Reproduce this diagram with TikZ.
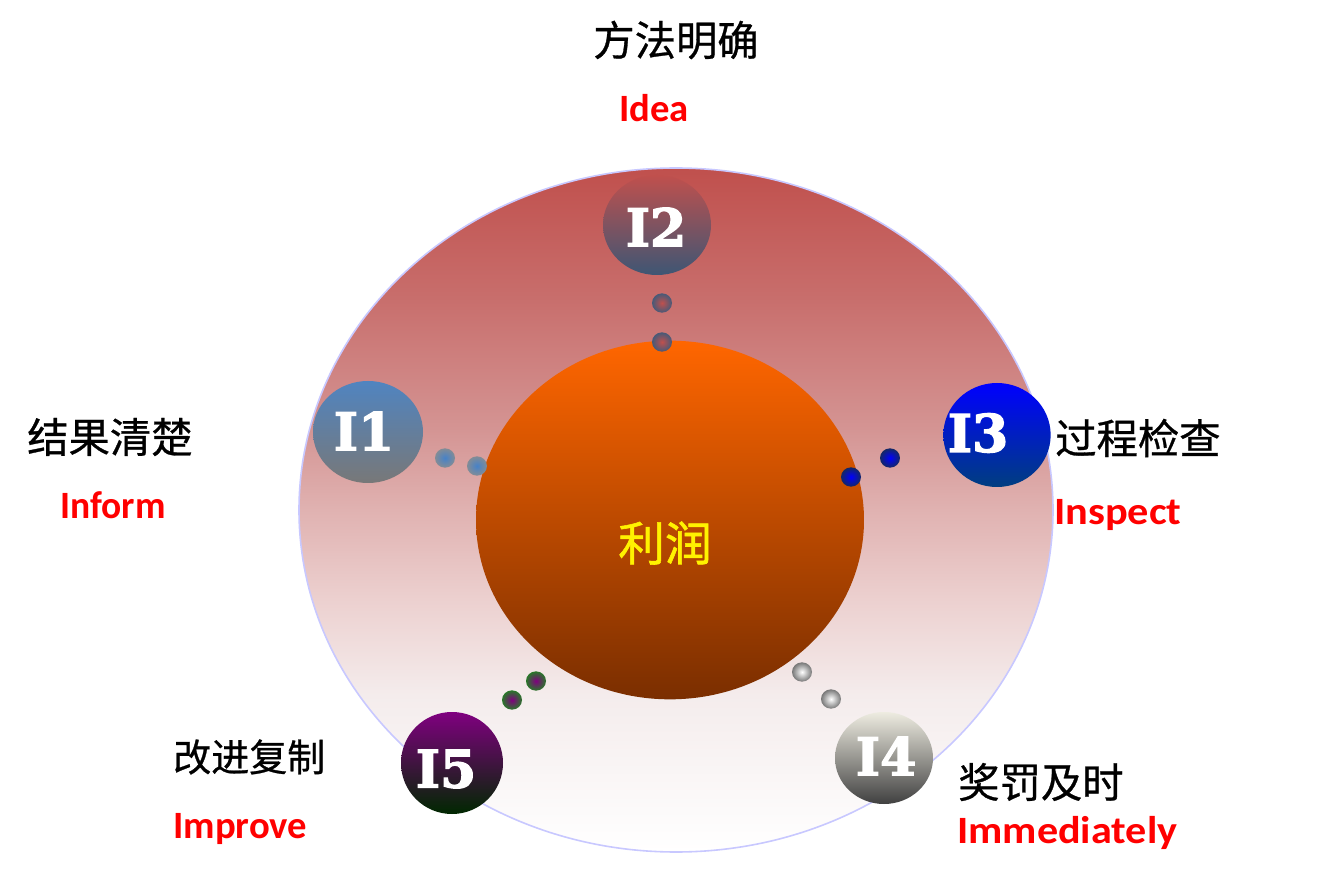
\documentclass[tikz,border=0pt]{standalone}
\usepackage{fontspec}
\usepackage{graphicx}
\setmainfont{Carlito}
\newfontfamily\cjk[FakeBold=0.7]{Noto Sans CJK SC}
\newfontfamily\cjkb[FakeBold=1.2]{Noto Sans CJK SC}
\newfontfamily\iserif[FakeBold=2.5]{DejaVu Serif Bold}
\usetikzlibrary{shapes.geometric}
\definecolor{ringtop}{RGB}{192,80,77}
\definecolor{ringedge}{RGB}{200,200,255}
\definecolor{coretop}{RGB}{255,102,0}
\definecolor{corebot}{RGB}{122,46,0}
\definecolor{aTop}{RGB}{80,132,192}
\definecolor{aBot}{RGB}{120,120,120}
\definecolor{bTop}{RGB}{192,80,77}
\definecolor{bBot}{RGB}{62,86,116}
\definecolor{cTop}{RGB}{0,0,255}
\definecolor{cBot}{RGB}{0,62,128}
\definecolor{dTop}{RGB}{238,236,225}
\definecolor{dBot}{RGB}{64,64,64}
\definecolor{eTop}{RGB}{128,0,128}
\definecolor{eBot}{RGB}{0,40,0}
\definecolor{dotgreen}{RGB}{40,120,40}
\definecolor{dotgray}{RGB}{120,120,120}
\definecolor{dotnavy}{RGB}{20,40,100}
\definecolor{dotslate}{RGB}{70,90,120}
\definecolor{dotblue}{RGB}{70,130,200}
\definecolor{dotgreyb}{RGB}{130,140,150}
\definecolor{ringA}{RGB}{244,236,236}
\definecolor{ringB}{RGB}{236,208,207}
\definecolor{ringC}{RGB}{224,178,177}
\definecolor{ringD}{RGB}{212,148,147}
\definecolor{ringE}{RGB}{200,110,108}
\pgfdeclareverticalshading{ringshade}{100bp}{color(0bp)=(white); color(25bp)=(white); color(36.5bp)=(ringA); color(43.5bp)=(ringB); color(50bp)=(ringC); color(56bp)=(ringD); color(65.5bp)=(ringE); color(75bp)=(ringtop); color(100bp)=(ringtop)}
\begin{document}
\begin{tikzpicture}[x=0.75pt,y=-0.75pt,
  ball/.style={ellipse, inner sep=0pt, draw=none},
  dot/.style={ellipse, inner sep=0pt, minimum width=15pt, minimum height=14.5pt},
  ilabel/.style={text=white, inner sep=0pt, font=\iserif\fontsize{39}{39}\selectfont},
  cn/.style={font=\cjk\fontsize{31}{31}\selectfont, text=black, inner sep=0pt},
  en/.style={font=\bfseries\fontsize{29}{29}\selectfont, text=red, inner sep=0pt}]
\useasboundingbox (0,0) rectangle (1340,880);
\fill[white] (0,0) rectangle (1340,880);
% outer ring
\node[ball, minimum width=565.5pt, minimum height=513pt, shading=ringshade, draw=ringedge, line width=1.2pt] (ring) at (676,510) {};
% core
\node[ball, minimum width=291pt, minimum height=269pt, top color=coretop, bottom color=corebot] (core) at (670,520) {};
\node[font=\cjkb\fontsize{35}{35}\selectfont, text=yellow, inner sep=0pt] (profit) at (665,543) {利润};
% balls
\node[ball, minimum width=81pt, minimum height=75pt, top color=bTop, bottom color=bBot] (b2) at (657,225) {};
\node[ball, minimum width=82.5pt, minimum height=76.5pt, top color=aTop, bottom color=aBot] (b1) at (368,432) {};
\node[ball, minimum width=80.5pt, minimum height=78pt, top color=cTop, bottom color=cBot] (b3) at (997,435) {};
\node[ball, minimum width=73.5pt, minimum height=69pt, top color=dTop, bottom color=dBot] (b4) at (884,758) {};
\node[ball, minimum width=76.5pt, minimum height=76.5pt, top color=eTop, bottom color=eBot] (b5) at (452,763) {};
\node[ilabel] (t2) at (656,227) {I2};
\node[ilabel] (t1) at (364,431) {I1};
\node[ilabel] (t3) at (978,433) {I3};
\node[ilabel] (t4) at (886,756) {I4};
\node[ilabel] (t5) at (446,769) {I5};
% dots
\node[dot, inner color=bTop, outer color=dotslate] (d2a) at (662,303) {};
\node[dot, inner color=bTop, outer color=dotslate] (d2b) at (662,342) {};
\node[dot, inner color=dotblue, outer color=dotgreyb] (d1a) at (445,458) {};
\node[dot, inner color=dotblue, outer color=dotgreyb] (d1b) at (477,466) {};
\node[dot, inner color=cTop, outer color=dotnavy] (d3a) at (890,458) {};
\node[dot, inner color=cTop, outer color=dotnavy] (d3b) at (851,477) {};
\node[dot, inner color=white, outer color=dotgray] (d4a) at (802,672) {};
\node[dot, inner color=white, outer color=dotgray] (d4b) at (831,699) {};
\node[dot, inner color=eTop, outer color=dotgreen] (d5a) at (536,681) {};
\node[dot, inner color=eTop, outer color=dotgreen] (d5b) at (512,700) {};
% labels
\node[cn] (c2) at (676,40) {方法明确};
\node[en, anchor=base] (e2) at (654,122) {Idea};
\node[cn, anchor=west] (c1) at (27,437) {结果清楚};
\node[en, anchor=base west] (e1) at (60,519) {\scalebox{0.97}[1]{Inform}};
\node[cn, anchor=west] (c3) at (1055,438) {过程检查};
\node[en, anchor=base west] (e3) at (1054,525) {\scalebox{1.095}[1]{Inspect}};
\node[cn, anchor=west] (c4) at (958,782) {奖罚及时};
\node[en, anchor=base west] (e4) at (957,843) {\scalebox{1.09}[1]{Immediately}};
\node[cn, anchor=west, font=\cjk\fontsize{28.5}{28.5}\selectfont] (c5) at (173,757) {改进复制};
\node[en, anchor=base west] (e5) at (173,838) {Improve};
\end{tikzpicture}
\end{document}
